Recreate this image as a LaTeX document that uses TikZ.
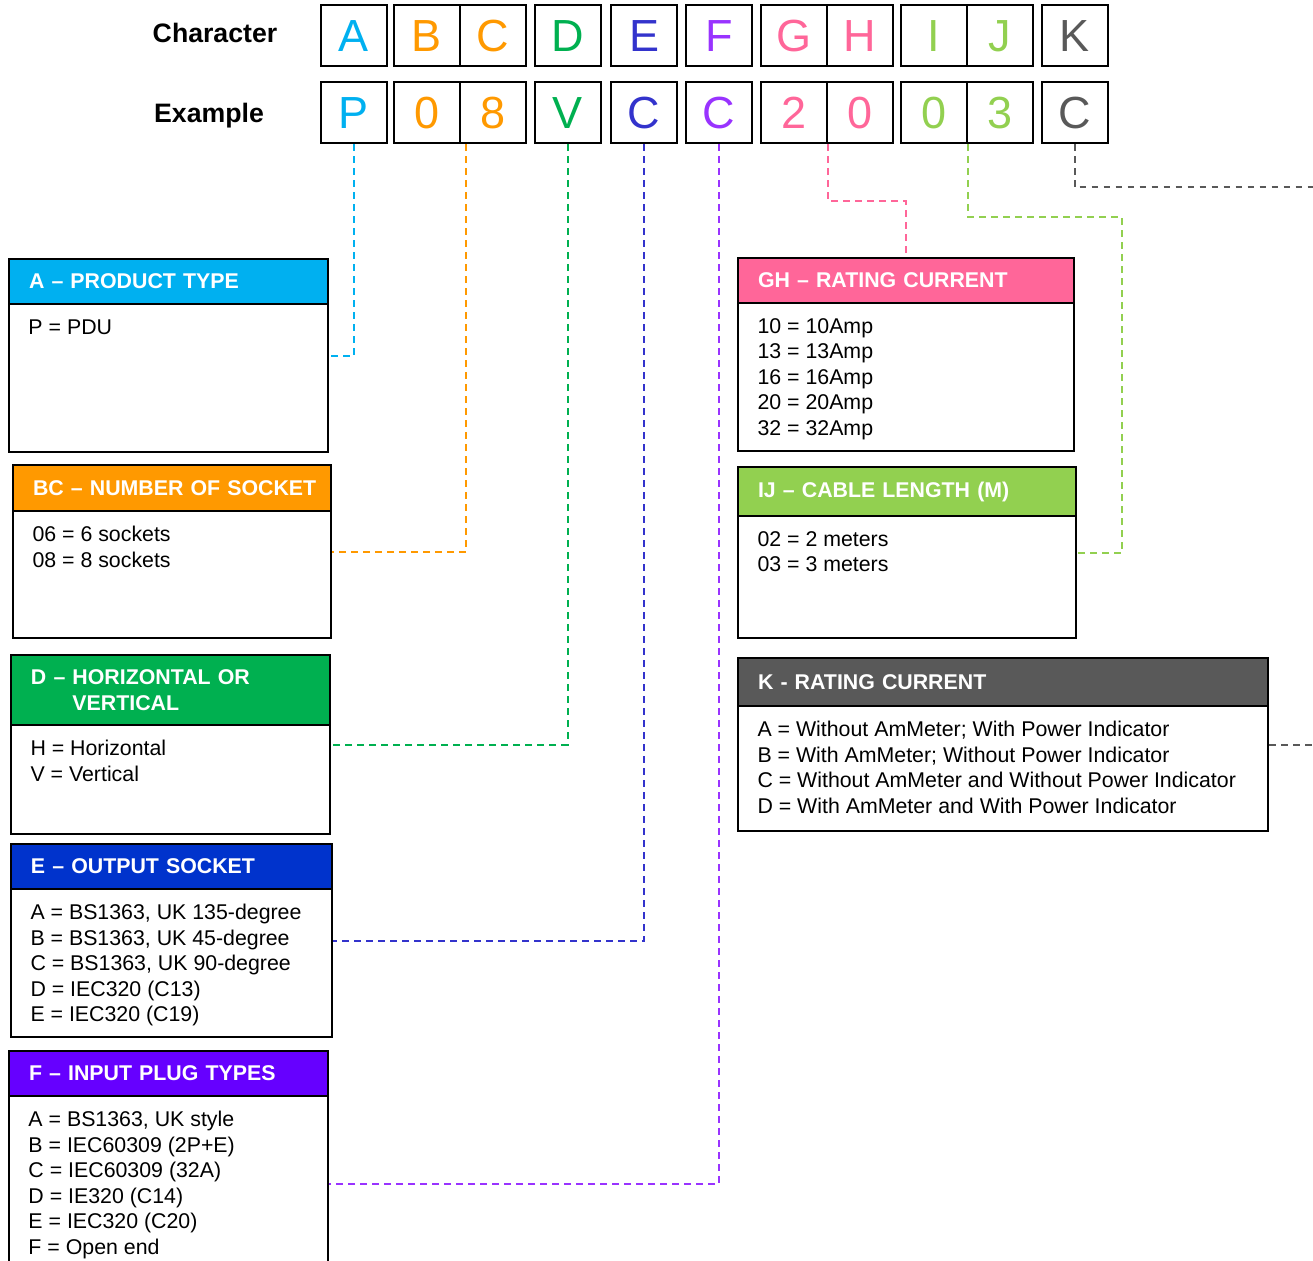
\documentclass[tikz,border=0pt]{standalone}
\usepackage{fontspec}
\setmainfont{Liberation Sans}
\usetikzlibrary{positioning}

\definecolor{cyanA}{HTML}{00B0F0}
\definecolor{orangeBC}{HTML}{FF9900}
\definecolor{greenD}{HTML}{00B050}
\definecolor{blueE}{HTML}{3333CC}
\definecolor{blueEhead}{HTML}{0033CC}
\definecolor{purpleF}{HTML}{9933FF}
\definecolor{purpleFhead}{HTML}{6600FF}
\definecolor{pinkGH}{HTML}{FF6699}
\definecolor{limeIJ}{HTML}{92D050}
\definecolor{greyK}{HTML}{595959}

\tikzset{every picture/.style={line width=0.75pt}}
\tikzset{
  cell/.style={draw, line width=1.5pt, minimum width=49.5pt, minimum height=45.75pt, inner sep=0pt, font=\fontsize{33.75}{40}\selectfont, text height=24.2pt, text depth=0pt},
  rowlabel/.style={inner sep=0.75pt, font=\fontsize{20}{24}\selectfont\bfseries},
  catbox/.style={draw, line width=1.5pt, fill=white, anchor=north west, inner sep=0pt},
  cathead/.style={draw, line width=1.5pt, anchor=north west, inner xsep=15pt, inner ysep=0pt, align=left, text=white, font=\fontsize{16}{19.5}\selectfont\bfseries},
  catbody/.style={inner sep=0pt, align=left, font=\fontsize{16}{19.1}\selectfont},
  link/.style={line width=1.5pt, dash pattern=on 5pt off 4pt},
}

\begin{document}
\begin{tikzpicture}[x=0.75pt,y=0.75pt,yscale=-1,xscale=1]
\useasboundingbox (0,0) rectangle (1313,1260);

% Text Node
\node[rowlabel] (lblChar) at (215,33) {Character};
% Text Node
\node[rowlabel] (lblEx) at (209,116) {Example};

%Shape: Rect (character row)
\node[cell, text=cyanA] (cA) at (354,35.5) {A};
\node[cell, text=orangeBC] (cB) at (427,35.5) {B};
\node[cell, text=orangeBC] (cC) at (493,35.5) {C};
\node[cell, text=greenD] (cD) at (567.5,35.5) {D};
\node[cell, text=blueE] (cE) at (644,35.5) {E};
\node[cell, text=purpleF] (cF) at (719,35.5) {F};
\node[cell, text=pinkGH] (cG) at (794,35.5) {G};
\node[cell, text=pinkGH] (cH) at (860,35.5) {H};
\node[cell, text=limeIJ] (cI) at (934,35.5) {I};
\node[cell, text=limeIJ] (cJ) at (1000,35.5) {J};
\node[cell, text=greyK] (cK) at (1074.5,35.5) {K};

%Shape: Rect (example row)
\node[cell, text=cyanA] (eA) at (354,112.5) {P};
\node[cell, text=orangeBC] (eB) at (427,112.5) {0};
\node[cell, text=orangeBC] (eC) at (493,112.5) {8};
\node[cell, text=greenD] (eD) at (567.5,112.5) {V};
\node[cell, text=blueE] (eE) at (644,112.5) {C};
\node[cell, text=purpleF] (eF) at (719,112.5) {C};
\node[cell, text=pinkGH] (eG) at (794,112.5) {2};
\node[cell, text=pinkGH] (eH) at (860,112.5) {0};
\node[cell, text=limeIJ] (eI) at (934,112.5) {0};
\node[cell, text=limeIJ] (eJ) at (1000,112.5) {3};
\node[cell, text=greyK] (eK) at (1074.5,112.5) {C};

%Shape: Box A
\node[catbox, minimum width=239.25pt, minimum height=144.75pt] (boxA) at (8,258) {};
\node[cathead, fill=cyanA, text width=209.25pt, minimum height=33.75pt] (hdrA) at (boxA.north west) {A -- PRODUCT TYPE};
\node[catbody, below right=10.5pt and 15pt of hdrA.south west] (txtA) {P = PDU};

%Shape: Box BC
\node[catbox, minimum width=238.5pt, minimum height=129.75pt] (boxBC) at (12,464) {};
\node[cathead, fill=orangeBC, text width=208.5pt, minimum height=34.5pt] (hdrBC) at (boxBC.north west) {\mbox{BC -- NUMBER OF SOCKET}};
\node[catbody, below right=10.5pt and 15pt of hdrBC.south west] (txtBC) {06 = 6 sockets\\08 = 8 sockets};

%Shape: Box D
\node[catbox, minimum width=239.25pt, minimum height=134.25pt] (boxD) at (10,654) {};
\node[cathead, fill=greenD, text width=209.25pt, minimum height=52.5pt] (hdrD) at (boxD.north west) {D -- HORIZONTAL OR\\\phantom{D -- }VERTICAL};
\node[catbody, below right=10.5pt and 15pt of hdrD.south west] (txtD) {H = Horizontal\\V = Vertical};

%Shape: Box E
\node[catbox, minimum width=240.75pt, minimum height=144.75pt] (boxE) at (10,843) {};
\node[cathead, fill=blueEhead, text width=210.75pt, minimum height=33.75pt] (hdrE) at (boxE.north west) {E -- OUTPUT SOCKET};
\node[catbody, below right=10.5pt and 15pt of hdrE.south west] (txtE) {A = BS1363, UK 135-degree\\B = BS1363, UK 45-degree\\C = BS1363, UK 90-degree\\D = IEC320 (C13)\\E = IEC320 (C19)};

%Shape: Box F
\node[catbox, minimum width=239.25pt, minimum height=199.5pt] (boxF) at (8,1050) {};
\node[cathead, fill=purpleFhead, text width=209.25pt, minimum height=33.75pt] (hdrF) at (boxF.north west) {F -- INPUT PLUG TYPES};
\node[catbody, below right=10.5pt and 15pt of hdrF.south west] (txtF) {A = BS1363, UK style\\B = IEC60309 (2P+E)\\C = IEC60309 (32A)\\D = IE320 (C14)\\E = IEC320 (C20)\\F = Open end};

%Shape: Box GH
\node[catbox, minimum width=252pt, minimum height=144.75pt] (boxGH) at (737,257) {};
\node[cathead, fill=pinkGH, text width=222pt, minimum height=33.75pt] (hdrGH) at (boxGH.north west) {GH -- RATING CURRENT};
\node[catbody, below right=10.5pt and 15pt of hdrGH.south west] (txtGH) {10 = 10Amp\\13 = 13Amp\\16 = 16Amp\\20 = 20Amp\\32 = 32Amp};

%Shape: Box IJ
\node[catbox, minimum width=253.5pt, minimum height=128.25pt] (boxIJ) at (737,466) {};
\node[cathead, fill=limeIJ, text width=223.5pt, minimum height=36.75pt] (hdrIJ) at (boxIJ.north west) {IJ -- CABLE LENGTH (M)};
\node[catbody, below right=10.5pt and 15pt of hdrIJ.south west] (txtIJ) {02 = 2 meters\\03 = 3 meters};

%Shape: Box K
\node[catbox, minimum width=397.5pt, minimum height=129.75pt] (boxK) at (737,657) {};
\node[cathead, fill=greyK, text width=367.5pt, minimum height=36pt] (hdrK) at (boxK.north west) {K - RATING CURRENT};
\node[catbody, below right=10.5pt and 15pt of hdrK.south west] (txtK) {A = Without AmMeter; With Power Indicator\\B = With AmMeter; Without Power Indicator\\C = Without AmMeter and Without Power Indicator\\D = With AmMeter and With Power Indicator};

%Straight Lines (dashed links)
\coordinate (ijBend) at (1122,217);
\coordinate (kEdge) at (1313,187);
\draw[link, cyanA] (eA.south) |- (boxA.east);
\draw[link, orangeBC] ([xshift=3.75pt]eB.south east) |- (boxBC.east);
\draw[link, greenD] (eD.south) |- (boxD.east);
\draw[link, blueE] (eE.south) |- (boxE.east);
\draw[link, purpleF] (eF.south) |- (boxF.east);
\draw[link, pinkGH] (eG.south east) -- ++(0,57) -| (boxGH.north);
\draw[link, limeIJ] (eI.south east) |- (ijBend) |- (boxIJ.east);
\draw[link, greyK] (eK.south) |- (kEdge);
\draw[link, greyK] (boxK.east) -- (boxK.east -| kEdge);

\end{tikzpicture}
\end{document}
